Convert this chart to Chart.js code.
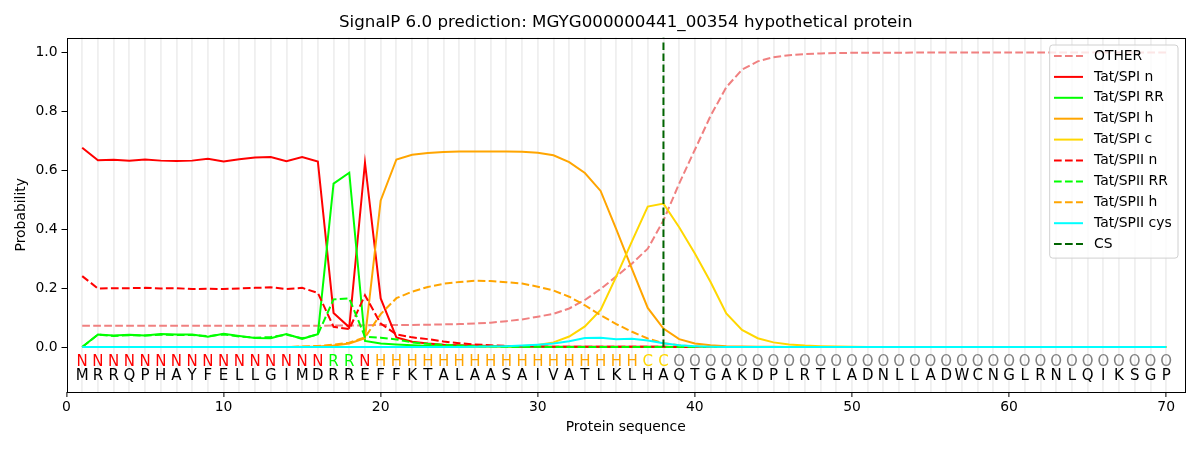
<!DOCTYPE html>
<html lang="en">
<head>
    <meta charset="UTF-8">
    <title>SignalP 6.0 prediction</title>
    <script src="https://cdn.jsdelivr.net/npm/chart.js"></script>
    <style>
        body { margin: 0; background: #fff; }
        #wrap { width: 1200px; height: 450px; }
    </style>
</head>
<body>
<div id="wrap"><canvas id="grafica" width="1200" height="450"></canvas></div>
<script>
    // protein sequence and predicted region per residue
    const residues = "MRRQPHAYFELLGIMDRREFFKTALAASAIVATLKLHAQTGAKDPLRTLADNLLADWCNGLRNLQIKSGP";
    const regions  = "NNNNNNNNNNNNNNNNRRNHHHHHHHHHHHHHHHHHCCOOOOOOOOOOOOOOOOOOOOOOOOOOOOOOOO";
    const positions = Array.from({length: residues.length}, (_, i) => i + 1);

    const xTickLabels = [0, 10, 20, 30, 40, 50, 60, 70];
    const yTicks = [0, 0.2, 0.4, 0.6, 0.8, 1.0];
    const csPos = 38;

    // probabilities, one value per residue
    const other = [
        0.072,0.072,0.072,0.072,0.072,0.072,0.072,0.072,0.072,0.072,
        0.072,0.072,0.072,0.072,0.072,0.072,0.073,0.073,0.074,0.075,
        0.075,0.075,0.076,0.077,0.078,0.080,0.083,0.088,0.094,0.103,
        0.113,0.131,0.160,0.197,0.240,0.284,0.334,0.430,0.555,0.670,
        0.785,0.882,0.942,0.970,0.984,0.991,0.995,0.997,0.998,0.999,
        0.999,0.999,0.999,1.000,1.000,1.000,1.000,1.000,1.000,1.000,
        1.000,1.000,1.000,1.000,1.000,1.000,1.000,1.000,1.000,1.000
    ];
    const spiN = [
        0.677,0.634,0.636,0.633,0.637,0.633,0.632,0.633,0.639,0.630,
        0.638,0.644,0.645,0.631,0.645,0.630,0.116,0.067,0.626,0.165,
        0.033,0.018,0.012,0.008,0.006,0.005,0.004,0.003,0.002,0.002,
        0.001,0.001,0.001,0.001,0.001,0.001,0.001,0.001,0,0,
        0,0,0,0,0,0,0,0,0,0,
        0,0,0,0,0,0,0,0,0,0,
        0,0,0,0,0,0,0,0,0,0
    ];
    const spiRR = [
        0.000,0.043,0.039,0.042,0.039,0.044,0.043,0.043,0.035,0.045,
        0.038,0.031,0.030,0.044,0.028,0.044,0.555,0.592,0.021,0.012,
        0.009,0.006,0.004,0.003,0.002,0.001,0.001,0.001,0.001,0.001,
        0,0,0,0,0,0,0,0,0,0,
        0,0,0,0,0,0,0,0,0,0,
        0,0,0,0,0,0,0,0,0,0,
        0,0,0,0,0,0,0,0,0,0
    ];
    const spiH = [
        0,0,0,0,0,0,0,0,0,0,
        0,0,0,0,0.001,0.002,0.005,0.012,0.030,0.498,
        0.637,0.653,0.659,0.662,0.664,0.664,0.664,0.664,0.663,0.660,
        0.651,0.628,0.591,0.530,0.400,0.265,0.133,0.063,0.027,0.012,
        0.006,0.003,0.002,0.001,0.001,0,0,0,0,0,
        0,0,0,0,0,0,0,0,0,0,
        0,0,0,0,0,0,0,0,0,0
    ];
    const spiC = [
        0,0,0,0,0,0,0,0,0,0,
        0,0,0,0,0,0,0,0,0,0,
        0,0,0,0,0,0.001,0.001,0.002,0.004,0.007,
        0.016,0.036,0.070,0.126,0.240,0.360,0.477,0.487,0.407,0.318,
        0.221,0.114,0.058,0.030,0.016,0.009,0.005,0.003,0.002,0.001,
        0,0,0,0,0,0,0,0,0,0,
        0,0,0,0,0,0,0,0,0,0
    ];
    const spiiN = [
        0.241,0.199,0.200,0.200,0.201,0.199,0.200,0.197,0.198,0.197,
        0.199,0.201,0.203,0.197,0.201,0.184,0.069,0.061,0.176,0.080,
        0.043,0.033,0.027,0.019,0.013,0.009,0.006,0.004,0.003,0.002,
        0.001,0.001,0.001,0.001,0.001,0.001,0.001,0.001,0,0,
        0,0,0,0,0,0,0,0,0,0,
        0,0,0,0,0,0,0,0,0,0,
        0,0,0,0,0,0,0,0,0,0
    ];
    const spiiRR = [
        0.000,0.042,0.038,0.040,0.039,0.042,0.041,0.041,0.037,0.043,
        0.036,0.032,0.034,0.042,0.030,0.043,0.162,0.165,0.035,0.032,
        0.026,0.016,0.011,0.008,0.005,0.003,0.002,0.001,0.001,0.001,
        0,0,0,0,0,0,0,0,0,0,
        0,0,0,0,0,0,0,0,0,0,
        0,0,0,0,0,0,0,0,0,0,
        0,0,0,0,0,0,0,0,0,0
    ];
    const spiiH = [
        0,0,0,0,0,0,0,0,0,0,
        0,0,0,0,0.002,0.004,0.008,0.015,0.033,0.112,
        0.166,0.188,0.204,0.215,0.221,0.225,0.224,0.220,0.216,0.205,
        0.192,0.171,0.142,0.108,0.078,0.052,0.029,0.013,0.006,0.002,
        0.001,0,0,0,0,0,0,0,0,0,
        0,0,0,0,0,0,0,0,0,0,
        0,0,0,0,0,0,0,0,0,0
    ];
    const spiiCys = [
        0,0,0,0,0,0,0,0,0,0,
        0,0,0,0,0,0,0,0,0,0,
        0,0,0,0,0,0.001,0.002,0.003,0.005,0.008,
        0.012,0.020,0.031,0.032,0.027,0.028,0.022,0.013,0.006,0.003,
        0.001,0,0,0,0,0,0,0,0,0,
        0,0,0,0,0,0,0,0,0,0,
        0,0,0,0,0,0,0,0,0,0
    ];

    const seriesNames = ['OTHER', 'Tat/SPI n', 'Tat/SPI RR', 'Tat/SPI h', 'Tat/SPI c',
                         'Tat/SPII n', 'Tat/SPII RR', 'Tat/SPII h', 'Tat/SPII cys'];
    const seriesValues = [other, spiN, spiRR, spiH, spiC, spiiN, spiiRR, spiiH, spiiCys];
    const seriesColors = ['#f08080', '#ff0000', '#00ff00', '#ffa500', '#ffd700',
                          '#ff0000', '#00ff00', '#ffa500', '#00ffff'];
    const seriesDashed = [true, false, false, false, false, true, true, true, false];

    const regionColors = { N: '#ff0000', R: '#00ff00', H: '#ffa500', C: '#ffd700', O: '#808080' };

    const FONT = '"DejaVu Sans", "Liberation Sans", sans-serif';
    const DASH = [7.7, 3.3];
    const Y_MIN = -0.1525, Y_MAX = 1.051;

    Chart.defaults.font.family = FONT;
    Chart.defaults.color = '#000';

    const datasets = seriesNames.map((name, k) => ({
        label: name,
        data: positions.map((p, i) => ({x: p, y: seriesValues[k][i]})),
        borderColor: seriesColors[k],
        borderWidth: 2,
        borderDash: seriesDashed[k] ? DASH : [],
        pointRadius: 0,
        tension: 0,
        order: 20 - k
    }));
    // cleavage site marker
    datasets.push({
        label: 'CS',
        data: [{x: csPos, y: 0}, {x: csPos, y: Y_MAX}],
        borderColor: '#006400',
        borderWidth: 2,
        borderDash: DASH,
        pointRadius: 0,
        order: 1
    });

    // title, residue rows, frame and legend drawn on top
    const extras = {
        id: 'extras',
        afterDatasetsDraw(chart) {
            const {ctx, chartArea: a, scales: {x, y}} = chart;
            ctx.save();
            ctx.font = '15px ' + FONT;
            ctx.textAlign = 'center';
            ctx.textBaseline = 'middle';
            positions.forEach((p, i) => {
                const px = x.getPixelForValue(p);
                ctx.fillStyle = regionColors[regions[i]];
                ctx.fillText(regions[i], px, y.getPixelForValue(-0.05));
                ctx.fillStyle = '#000';
                ctx.fillText(residues[i], px, y.getPixelForValue(-0.1));
            });
            ctx.restore();
        },
        afterDraw(chart) {
            const {ctx, chartArea: a} = chart;
            ctx.save();
            // frame
            ctx.strokeStyle = '#000';
            ctx.lineWidth = 1;
            const l = Math.round(a.left) + 0.5, t = Math.round(a.top) + 0.5;
            const r = Math.round(a.right) + 0.5, b = Math.round(a.bottom) + 0.5;
            ctx.strokeRect(l, t, r - l, b - t);

            // title
            ctx.fillStyle = '#000';
            ctx.font = '16.7px ' + FONT;
            ctx.textAlign = 'center';
            ctx.textBaseline = 'middle';
            ctx.fillText('SignalP 6.0 prediction: MGYG000000441_00354 hypothetical protein',
                         (a.left + a.right) / 2, 23);

            // legend
            const items = chart.data.datasets;
            ctx.font = '13.9px ' + FONT;
            const maxW = Math.max(...items.map(d => ctx.measureText(d.label).width));
            const rowH = 20.9;
            const boxR = a.right - 7, boxT = a.top + 7.5;
            const boxW = 4.3 + 29 + 11 + maxW + 6.3;
            const boxH = 11 + (items.length - 1) * rowH + 14;
            const boxL = boxR - boxW;
            ctx.beginPath();
            ctx.roundRect(boxL, boxT, boxW, boxH, 3);
            ctx.fillStyle = 'rgba(255,255,255,0.8)';
            ctx.fill();
            ctx.strokeStyle = '#d0d0d0';
            ctx.stroke();
            ctx.textAlign = 'left';
            items.forEach((d, i) => {
                const cy = boxT + 11 + i * rowH;
                ctx.beginPath();
                ctx.setLineDash(d.borderDash || []);
                ctx.strokeStyle = d.borderColor;
                ctx.lineWidth = 2;
                ctx.moveTo(boxL + 4.3, cy);
                ctx.lineTo(boxL + 4.3 + 29, cy);
                ctx.stroke();
                ctx.setLineDash([]);
                ctx.fillStyle = '#000';
                ctx.fillText(d.label, boxL + 4.3 + 29 + 11, cy);
            });
            ctx.restore();
        }
    };

    const config = {
        type: 'line',
        data: { datasets },
        options: {
            responsive: false,
            animation: false,
            layout: { padding: { top: 37.5, right: 15, left: 0, bottom: 0 } },
            plugins: {
                legend: { display: false },
                title: { display: false },
                tooltip: { enabled: false }
            },
            scales: {
                x: {
                    type: 'linear',
                    min: 0,
                    max: 71.2,
                    afterBuildTicks: s => { s.ticks = [0, ...positions].map(v => ({value: v})); },
                    afterFit: s => { s.height = 58; },
                    ticks: {
                        autoSkip: false,
                        maxRotation: 0,
                        padding: 2,
                        font: { size: 13.9 },
                        callback: v => xTickLabels.includes(v) ? String(v) : ''
                    },
                    grid: {
                        color: c => (c.tick && c.tick.value >= 1) ? '#efefef' : 'rgba(0,0,0,0)',
                        lineWidth: 1.8,
                        tickLength: 5,
                        tickWidth: 1,
                        tickColor: c => (c.tick && xTickLabels.includes(c.tick.value)) ? '#000' : 'rgba(0,0,0,0)'
                    },
                    border: { display: false },
                    title: {
                        display: true,
                        text: 'Protein sequence',
                        font: { size: 13.9 },
                        padding: { top: 4, bottom: 14 }
                    }
                },
                y: {
                    min: Y_MIN,
                    max: Y_MAX,
                    afterBuildTicks: s => { s.ticks = yTicks.map(v => ({value: v})); },
                    afterFit: s => { s.width = 66.5; },
                    ticks: {
                        padding: 4,
                        font: { size: 13.9 },
                        callback: v => v.toFixed(1)
                    },
                    grid: {
                        drawOnChartArea: false,
                        tickLength: 5,
                        tickColor: '#000'
                    },
                    border: { display: false },
                    title: {
                        display: true,
                        text: 'Probability',
                        font: { size: 13.9 },
                        padding: { top: 13, bottom: 0 }
                    }
                }
            }
        },
        plugins: [extras]
    };

    new Chart(document.getElementById('grafica').getContext('2d'), config);
</script>
</body>
</html>
